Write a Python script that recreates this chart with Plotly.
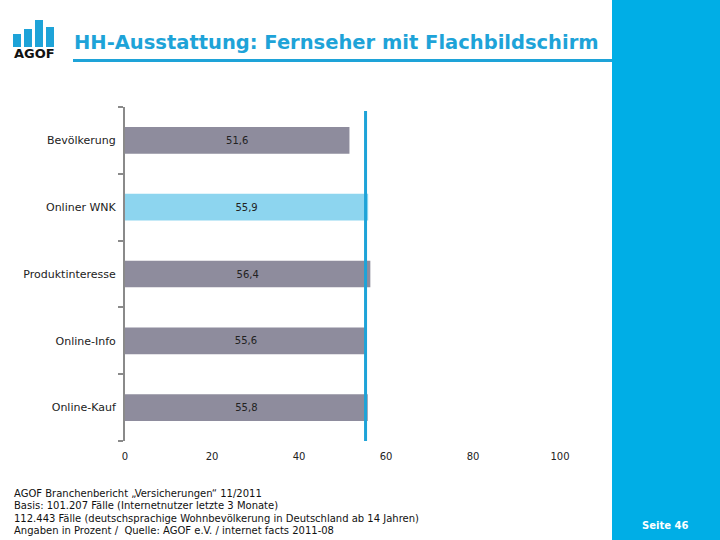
import plotly.graph_objects as go

categories = ["Bevölkerung", "Onliner WNK", "Produktinteresse", "Online-Info", "Online-Kauf"]
values = [51.6, 55.9, 56.4, 55.6, 55.8]
highlight = "Onliner WNK"
reference_value = 55.3
x_ticks = [0, 20, 40, 60, 80, 100]

title = "HH-Ausstattung: Fernseher mit Flachbildschirm"
footer_lines = [
    "AGOF Branchenbericht „Versicherungen“ 11/2011",
    "Basis: 101.207 Fälle (Internetnutzer letzte 3 Monate)",
    "112.443 Fälle (deutschsprachige Wohnbevölkerung in Deutschland ab 14 Jahren)",
    "Angaben in Prozent /  Quelle: AGOF e.V. / internet facts 2011-08",
]
page_label = "Seite 46"

W, H = 720, 540
L, R, T, B = 125, 160, 107, 99

GRAY = "#8e8c9d"
LIGHT = "#8dd5ef"
BLUE = "#1ea3d8"
PANEL = "#00aee6"
FONT = "DejaVu Sans"

ypos = list(range(len(categories)))
colors = [LIGHT if c == highlight else GRAY for c in categories]
labels = [f"{v:.1f}".replace(".", ",") for v in values]

fig = go.Figure()
fig.add_trace(go.Bar(
    x=values, y=ypos, orientation="h", marker=dict(color=colors, line=dict(width=0)),
    width=0.4, text=labels, textposition="inside", insidetextanchor="middle",
    textfont=dict(family=FONT, size=10, color="#222222"), hoverinfo="skip",
    cliponaxis=False,
))

# reference line
fig.add_shape(type="line", xref="x", yref="paper", x0=reference_value, x1=reference_value,
              y0=0, y1=0.988, line=dict(color=BLUE, width=3))

fig.update_layout(
    width=W, height=H, margin=dict(l=L, r=R, t=T, b=B),
    paper_bgcolor="white", plot_bgcolor="white", showlegend=False,
    font=dict(family=FONT, color="#222222"),
    xaxis=dict(range=[0, 100], tickvals=x_ticks, ticktext=[str(t) for t in x_ticks],
               showgrid=False, zeroline=False, showline=False, ticks="",
               tickfont=dict(family=FONT, size=10, color="#222222"), ticklabelstandoff=8,
               fixedrange=True),
    yaxis=dict(range=[4.5, -0.5], tickvals=ypos, ticktext=categories,
               showgrid=False, zeroline=False, showline=True, linecolor="#8a8a8a", linewidth=2,
               ticks="", tickfont=dict(family=FONT, size=11, color="#222222"),
               ticklabelstandoff=5,
               minor=dict(tick0=-0.5, dtick=1, ticks="outside", ticklen=5, tickwidth=2,
                          tickcolor="#8a8a8a", showgrid=False),
               fixedrange=True),
)

def px_x(p):
    return (p - L) / (W - L - R)

def px_y(p):
    return (H - B - p) / (H - T - B)

# right panel
fig.add_shape(type="rect", xref="paper", yref="paper",
              x0=px_x(612), x1=px_x(W + 2), y0=px_y(H + 2), y1=px_y(-2),
              fillcolor=PANEL, line=dict(width=0), layer="below")

# title underline
fig.add_shape(type="line", xref="paper", yref="paper", x0=px_x(73), x1=px_x(612),
              y0=px_y(60.5), y1=px_y(60.5), line=dict(color=BLUE, width=3))

# logo bars
logo_bars = [(13, 21, 34), (24, 32, 29), (35, 43, 20), (46, 54, 27)]
for x0, x1, top in logo_bars:
    fig.add_shape(type="rect", xref="paper", yref="paper", x0=px_x(x0), x1=px_x(x1),
                  y0=px_y(47), y1=px_y(top), fillcolor=BLUE, line=dict(width=0))

fig.add_annotation(text="<b>AGOF</b>", xref="paper", yref="paper", x=px_x(12), y=px_y(54),
                   xanchor="left", yanchor="middle", showarrow=False,
                   font=dict(family=FONT, size=13, color="#111111"))

fig.add_annotation(text=f"<b>{title}</b>", xref="paper", yref="paper", x=px_x(72), y=px_y(42),
                   xanchor="left", yanchor="middle", showarrow=False,
                   font=dict(family=FONT, size=19.5, color=BLUE))

for i, line in enumerate(footer_lines):
    fig.add_annotation(text=line, xref="paper", yref="paper", x=px_x(12), y=px_y(493 + i * 12.5),
                       xanchor="left", yanchor="middle", showarrow=False,
                       font=dict(family=FONT, size=10, color="#111111"))

fig.add_annotation(text=f"<b>{page_label}</b>", xref="paper", yref="paper", x=px_x(665), y=px_y(525),
                   xanchor="center", yanchor="middle", showarrow=False,
                   font=dict(family=FONT, size=10, color="white"))

fig.write_html("out.html", config={"displayModeBar": False})

with open("out.html", "r", encoding="utf-8") as f:
    html = f.read()
html = html.replace("<head>", "<head><style>html,body{margin:0;padding:0;overflow:hidden;}</style>", 1)
with open("out.html", "w", encoding="utf-8") as f:
    f.write(html)
